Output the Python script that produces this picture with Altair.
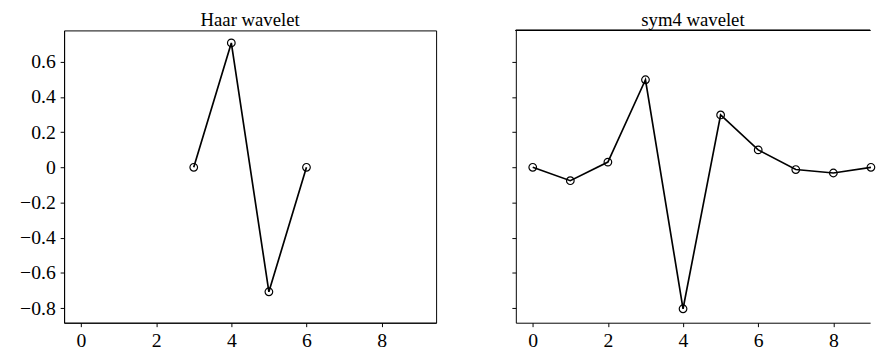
import altair as alt
import pandas as pd

haar_x = [3, 4, 5, 6]
haar_y = [0.0, 0.7071, -0.7071, 0.0]

sym4_x = [0, 1, 2, 3, 4, 5, 6, 7, 8, 9]
sym4_y = [0.0, -0.0758, 0.0296, 0.4976, -0.8037, 0.2979, 0.0992, -0.0126, -0.0322, 0.0]

x_ticks = [0, 2, 4, 6, 8]
y_ticks = [-0.8, -0.6, -0.4, -0.2, 0.0, 0.2, 0.4, 0.6]

FONT = "Liberation Serif"
y_dom = [-0.883, 0.778]
UNIT = 378 / 9.9
PLOT_H = 297


def panel(xs, ys, title, show_labels, width):
    df = pd.DataFrame({"x": xs, "y": ys})
    x_dom = [-0.45, -0.45 + width / UNIT]
    xenc = alt.X("x:Q", scale=alt.Scale(domain=x_dom, nice=False, zero=False),
                 axis=alt.Axis(values=x_ticks, title=None, grid=False, format="d", labelPadding=4))
    yaxis = alt.Axis(values=y_ticks, title=None, grid=False,
                     labelExpr="datum.value == 0 ? '0' : replace(format(datum.value, '.1f'), '-', '\u2212')",
                     labels=show_labels, labelPadding=5,
                     minExtent=56 if show_labels else 5,
                     maxExtent=56 if show_labels else 5)
    yenc = alt.Y("y:Q", scale=alt.Scale(domain=y_dom, nice=False, zero=False), axis=yaxis)
    base = alt.Chart(df).encode(x=xenc, y=yenc)
    line = base.mark_line(color="black", strokeWidth=1.7)
    pts = base.mark_point(shape="circle", filled=False, color="black", size=60, strokeWidth=1.2, opacity=1)
    layers = [line, pts]
    props = {}
    if not show_labels:
        top = alt.Chart(df).mark_rule(color="black", strokeWidth=1).encode(
            x=alt.value(0), x2=alt.value(width), y=alt.value(0))
        layers = [top] + layers
        props["view"] = alt.ViewBackground(stroke="transparent")
    return alt.layer(*layers).properties(
        width=width, height=PLOT_H,
        title=alt.TitleParams(title, font=FONT, fontSize=19, fontWeight="normal",
                              color="black", offset=0),
        **props)


left = panel(haar_x, haar_y, "Haar wavelet", True, 378)
right = panel(sym4_x, sym4_y, "sym4 wavelet", False, 360)

chart = alt.hconcat(left, right, spacing=74).configure(
    padding=0, background="white"
).configure_view(
    stroke="black", strokeWidth=1
).configure_axis(
    labelFont=FONT, labelFontSize=20, labelColor="black",
    domainColor="black", tickColor="black", tickSize=4,
    domainWidth=1, tickWidth=1
)

chart.save("out.html", embed_options={"renderer": "svg", "actions": False})
